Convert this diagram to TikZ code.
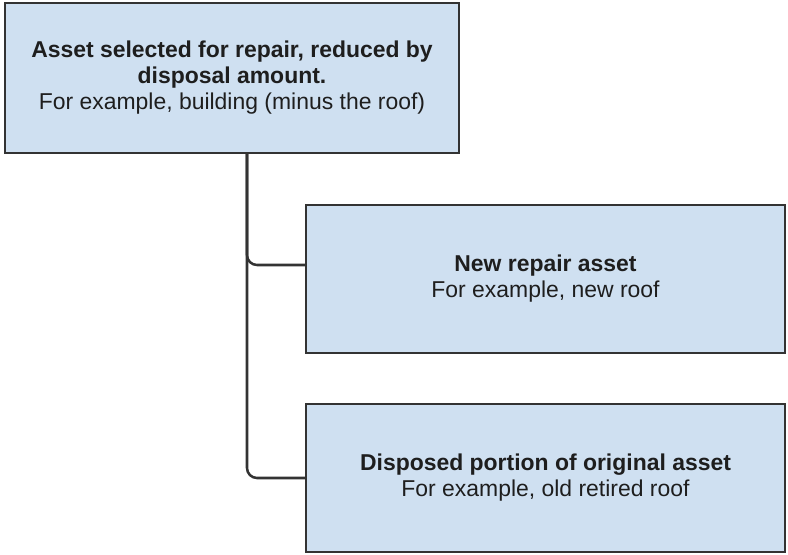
\documentclass[tikz,border=0pt]{standalone}
\usepackage{fontspec}
\setmainfont{Liberation Sans}
\usepackage{tikz}
\usetikzlibrary{positioning}
\definecolor{boxfill}{RGB}{207,224,241}
\definecolor{boxline}{RGB}{51,51,51}
\definecolor{boxtext}{RGB}{30,30,30}
\tikzset{
    assetbox/.style={draw=boxline,fill=boxfill,line width=1.9pt,align=center,inner sep=0,outer sep=0,text=boxtext},
    link/.style={draw=boxline,line width=1.9pt,rounded corners=7.5pt}
}
\begin{document}
\begin{tikzpicture}[x=0.75pt,y=-0.75pt,every node/.style={font=\fontsize{17.2pt}{19.5pt}\selectfont}]
    \useasboundingbox (0,0) rectangle (788,554);
	\node (whole) [assetbox,minimum width=340.5pt,minimum height=112.5pt] at (232,78)
        {\textbf{Asset selected for repair, reduced by}\\\textbf{disposal amount.}\\For example, building (minus the roof)};
	\node (new) [assetbox,minimum width=359pt,minimum height=111pt] at (545.5,279)
        {\textbf{New repair asset}\\For example, new roof};
	\node (old) [assetbox,minimum width=359pt,minimum height=111pt] at (545.5,478)
        {\textbf{Disposed portion of original asset}\\For example, old retired roof};
    \draw[link] ([xshift=11.25pt]whole.south) |- ([yshift=10.5pt]new.west);
    \draw[link] ([xshift=11.25pt]whole.south) |- (old.west);
\end{tikzpicture}
\end{document}
